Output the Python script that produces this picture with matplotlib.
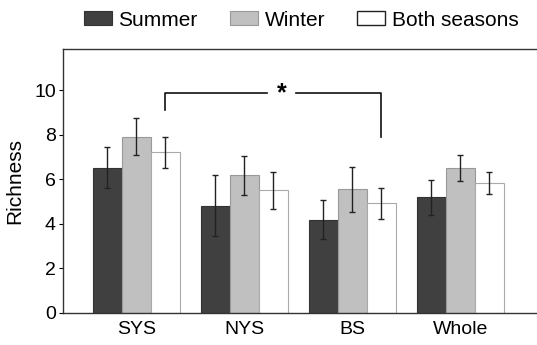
import numpy as np
import matplotlib
matplotlib.use('Agg')
import matplotlib.pyplot as plt

plt.rcParams['font.family'] = ['Liberation Sans', 'DejaVu Sans']

# data
sites = ['SYS', 'NYS', 'BS', 'Whole']
summer = [6.53, 4.81, 4.19, 5.19]
summer_err = [0.92, 1.37, 0.89, 0.78]
winter = [7.92, 6.19, 5.55, 6.50]
winter_err = [0.83, 0.88, 1.01, 0.58]
both = [7.22, 5.50, 4.92, 5.83]
both_err = [0.70, 0.84, 0.71, 0.50]

# significance bracket (SYS both vs BS both)
sig_y = 9.87
sig_left_end = 9.1
sig_right_end = 7.9

fig = plt.figure(figsize=(5.37, 3.45), dpi=100)
ax = fig.add_axes([0.117, 0.0928, 0.883, 0.765])

x = np.arange(len(sites))
w = 0.268
ekw = dict(ecolor='#222222', elinewidth=1.0, capsize=2.5, capthick=1.0)

ax.bar(x - w, summer, w, yerr=summer_err, color='#404040', edgecolor='#333333',
       linewidth=0.8, error_kw=ekw, label='Summer')
ax.bar(x, winter, w, yerr=winter_err, color='#c0c0c0', edgecolor='#999999',
       linewidth=0.8, error_kw=ekw, label='Winter')
ax.bar(x + w, both, w, yerr=both_err, color='white', edgecolor='#aaaaaa',
       linewidth=0.8, error_kw=ekw, label='Both seasons')

# bracket
xl = x[0] + w
xr = x[2] + w
xs = 1.345
gap = 0.135
ax.plot([xl, xl, xs - gap], [sig_left_end, sig_y, sig_y], color='#111111', lw=1.2)
ax.plot([xs + gap, xr, xr], [sig_y, sig_y, sig_right_end], color='#111111', lw=1.2)
ax.text(xs, sig_y, '*', ha='center', va='center', fontsize=18, fontweight='bold')

ax.set_xlim(-0.68, 3.71)
ax.set_ylim(0, 11.85)
ax.set_yticks([0, 2, 4, 6, 8, 10])
ax.set_xticks(x)
ax.set_xticklabels(sites)
ax.tick_params(axis='x', length=0, labelsize=14, pad=6)
ax.tick_params(axis='y', length=3, width=0.8, labelsize=14, pad=2)
ax.set_ylabel('Richness', fontsize=15, labelpad=7)
ax.spines['right'].set_visible(False)
for s in ['left', 'top', 'bottom']:
    ax.spines[s].set_linewidth(1.0)
    ax.spines[s].set_color('#333333')

leg = fig.legend(loc='center', bbox_to_anchor=(0.561, 0.942), ncol=3, frameon=False,
                 fontsize=15, handlelength=1.35, handleheight=0.68, handletextpad=0.3,
                 columnspacing=1.55)
# only the white patch gets a dark outline in the key
leg.legend_handles[2].set_edgecolor('#222222')
leg.legend_handles[2].set_linewidth(1.0)

fig.savefig('out.png', dpi=100)
